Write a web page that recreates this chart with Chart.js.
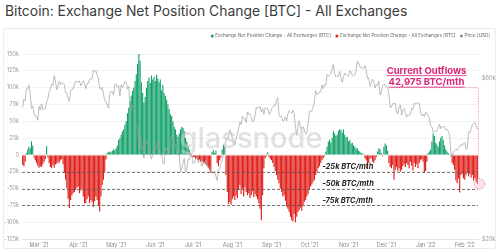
<!DOCTYPE html>
<html>
<head>
<meta charset="utf-8">
<script src="https://cdn.jsdelivr.net/npm/chart.js@4.4.1/dist/chart.umd.min.js"></script>
<style>
html, body { margin: 0; padding: 0; background: #fff; }
#wrap { position: relative; width: 499px; height: 251px; overflow: hidden; font-family: Inter, sans-serif; }
#title { position: absolute; left: 5px; top: 3px; font-size: 13.9px; color: #3b3b3b; white-space: nowrap; }
#panel { position: absolute; left: 3px; top: 28px; width: 491px; height: 219px; border: 1px solid #ececec; border-radius: 2px; }
canvas { position: absolute; left: 0; top: 0; }
</style>
</head>
<body>
<div id="wrap">
  <div id="title">Bitcoin: Exchange Net Position Change [BTC] - All Exchanges</div>
  <div id="panel"></div>
  <canvas id="chart" width="499" height="251"></canvas>
</div>
<script>
// net position change, thousands of BTC per 30 days (one value per day from 16 Feb 2021)
const netFeb21 = [-15,-17,-10,3,8,12,10,20,14,-4,-8,-12,-16];
const netMar21 = [-19,-17,-18,-14,-10,-6,13,-4,-12,-18,-20,-15,-19,-14,-13,-10,-12,-8,-6,-14,-27,-37,-50,-65,-79,-67,-60,-57,-55,-52,-49];
const netApr21 = [-47,-57,-53,-50,-62,-72,-72,-66,-62,-72,-67,-70,-77,-69,-62,-67,-75,-84,-62,-45,-37,-25,-7,3,4,5,4,6,8,7];
const netMay21 = [10,14,22,25,30,35,38,45,50,62,70,80,88,95,100,110,120,135,155,140,108,92,78,86,100,110,115,107,118,112,116];
const netJun21 = [110,119,114,108,112,96,104,92,88,82,75,68,60,58,50,42,38,30,27,32,38,42,40,35,25,20,14,8,3,-2];
const netJul21 = [-4,-3,-6,-5,-8,-7,-10,-9,-12,-11,-14,-16,-20,-22,-27,4,7,3,6,-12,-17,-8,-4,8,15,12,-30,-55,-73,-70,-74];
const netAug21 = [-66,-62,-67,-60,-64,-52,-45,-58,-50,-62,-48,-55,-60,-57,-64,-60,-54,-63,-58,-62,-66,-72,-80,-97,-60,-20,-5,-2,4,-3,-6];
const netSep21 = [-8,-12,-18,-24,-30,-37,-42,-50,-55,-62,-60,-68,-77,-80,-85,-92,-97,-99,-88,-100,-92,-85,-82,-78,-83,-75,-70,-67,-62,-58];
const netOct21 = [-52,-47,-44,-40,-37,-30,-25,-20,-17,-12,-8,-5,-2,5,12,20,22,18,25,35,32,28,30,36,38,37,33,38,30,26,27];
const netNov21 = [20,22,17,18,14,12,9,10,6,5,3,2,1,-5,-8,-20,-12,-6,-4,-10,-12,-8,-3,5,10,8,3,-2,12,17];
const netDec21 = [14,6,-12,-18,-20,-15,-37,-22,-18,-24,-20,-25,-22,-17,-14,-18,-12,-15,-20,-10,-16,-23,-12,-18,-14,-20,-12,-8,-6,-10,-27];
const netJan22 = [-24,-10,3,5,8,20,32,28,18,15,12,20,25,28,22,14,8,5,3,1,-2,-12,-15,-22,-38,-42,-35,-56,-30,-28,-35];
const netFeb22 = [-37,-30,-27,-32,-28,-34,-30,-38,-34,-40,-42.975];

// BTC price, thousands of USD
const priceFeb21 = [49.2,52.1,51.6,55.9,55.9,57.4,54.1,48.9,49.7,47.1,46.3,46.2,45.1];
const priceMar21 = [49.6,48.4,50.5,48.4,48.8,48.9,51.2,52.3,54.8,56.0,57.8,57.3,61.2,59.0,55.6,56.9,58.9,57.6,58.3,58.1,57.5,54.5,54.3,52.3,51.3,55.0,55.8,55.9,57.7,58.8,58.8];
const priceApr21 = [58.7,59.0,57.1,58.2,59.1,58.0,56.0,58.1,58.1,59.8,59.9,59.8,63.5,62.9,63.3,61.4,60.1,56.2,55.7,56.5,53.8,51.7,51.1,50.1,49.0,54.0,55.0,54.8,53.6,57.8];
const priceMay21 = [57.8,56.6,57.2,53.2,57.5,56.4,57.4,58.9,58.3,55.9,56.8,49.5,49.7,49.9,46.8,46.4,43.6,42.9,37.0,40.8,37.3,37.5,34.8,38.8,38.4,39.3,38.4,35.7,34.6,35.7,37.3];
const priceJun21 = [36.7,37.6,39.2,36.9,35.5,35.8,33.6,33.4,37.4,36.7,37.3,35.6,39.1,40.5,40.1,38.3,38.1,35.8,35.5,35.6,31.7,32.5,33.7,34.7,31.6,32.2,34.6,34.5,35.9,35.0];
const priceJul21 = [33.5,33.8,34.7,35.3,33.7,34.2,33.8,32.9,33.8,33.5,34.3,33.1,32.7,32.8,31.8,31.4,31.5,31.8,30.8,29.8,32.1,32.3,33.6,34.3,35.4,37.3,39.4,40.0,40.0,42.2,41.6];
const priceAug21 = [39.9,39.2,38.2,39.7,40.9,42.8,44.6,43.8,46.3,45.6,45.6,44.4,47.8,47.1,47.0,46.0,44.7,44.8,46.7,49.3,48.9,49.3,49.5,47.7,48.9,47.0,49.1,48.9,48.8,47.0,47.2];
const priceSep21 = [48.8,49.3,50.0,49.9,51.8,52.7,46.9,46.1,46.4,44.9,45.2,46.1,44.9,47.1,48.2,47.8,47.3,48.3,47.3,43.0,40.7,43.6,44.9,42.8,42.7,43.2,42.2,41.0,41.5,43.8];
const priceOct21 = [48.1,47.7,48.2,49.2,51.5,55.3,53.8,53.9,54.9,54.7,57.5,56.0,57.4,57.3,61.7,60.9,61.5,62.0,64.3,66.0,62.2,60.7,61.3,60.9,63.0,60.4,58.5,60.6,62.3,61.9,61.3];
const priceNov21 = [61.0,63.2,62.9,61.4,61.0,61.5,63.3,67.6,66.9,64.9,64.9,64.2,64.5,65.5,63.6,60.1,60.4,56.9,58.1,59.8,58.7,56.3,57.6,57.2,58.9,53.6,54.8,57.3,57.8,57.0];
const priceDec21 = [56.9,56.5,53.6,49.2,49.4,50.6,50.5,50.6,47.6,47.1,49.4,50.1,46.7,48.4,48.9,47.6,46.2,46.8,46.7,46.9,49.0,48.6,50.8,50.4,50.8,50.7,50.6,47.5,46.5,47.1,46.3];
const priceJan22 = [47.7,47.3,46.4,45.8,43.4,43.1,41.5,41.7,41.9,41.8,42.7,43.9,42.6,43.1,43.2,43.1,42.2,42.4,41.7,40.7,36.5,35.0,36.3,36.7,37.0,36.8,37.2,37.7,38.2,37.9,38.5];
const priceFeb22 = [38.7,36.9,37.3,41.6,41.4,42.4,43.8,44.1,44.4,43.6,42.4];

const monthLabels = ["Mar '21","Apr '21","May '21","Jun '21","Jul '21","Aug '21","Sep '21","Oct '21","Nov '21","Dec '21","Jan '22","Feb '22"];
const priceTicks = [20000, 60000];
const bandLevels = [-25000, -50000, -75000];
const bandLabels = ['-25k BTC/mth', '-50k BTC/mth', '-75k BTC/mth'];
const calloutLines = ['Current Outflows', '42,975 BTC/mth'];

const netChange = [].concat(netFeb21, netMar21, netApr21, netMay21, netJun21, netJul21,
  netAug21, netSep21, netOct21, netNov21, netDec21, netJan22, netFeb22);
const price = [].concat(priceFeb21, priceMar21, priceApr21, priceMay21, priceJun21, priceJul21,
  priceAug21, priceSep21, priceOct21, priceNov21, priceDec21, priceJan22, priceFeb22);

const start = Date.UTC(2021, 1, 16);
const dates = netChange.map((_, i) => new Date(start + i * 86400000));
const labels = dates.map(d => d.toISOString().slice(0, 10));
const monthStarts = [];
dates.forEach((d, i) => { if (d.getUTCDate() === 1) monthStarts.push(i); });

const GREEN = '#15a26a';
const RED = '#df1f1a';
const PINK = '#dc2478';
const FONT = 'Inter, sans-serif';

// legend, watermark and notes drawn straight on the canvas
const extras = {
  id: 'extras',
  afterDatasetsDraw(chart) {
    const { ctx, chartArea: a, scales } = chart;
    const x = scales.x, y = scales.y;
    ctx.save();

    // watermark
    ctx.font = '500 29px ' + FONT;
    ctx.fillStyle = 'rgba(205,205,205,0.6)';
    ctx.textAlign = 'center';
    ctx.textBaseline = 'alphabetic';
    ctx.fillText('glassnode', 251, 148);

    // dashed levels
    ctx.strokeStyle = '#555';
    ctx.lineWidth = 0.8;
    ctx.setLineDash([3, 2]);
    bandLevels.forEach(v => {
      const py = Math.round(y.getPixelForValue(v)) + 0.5;
      ctx.beginPath(); ctx.moveTo(a.left, py); ctx.lineTo(a.right, py); ctx.stroke();
    });
    ctx.setLineDash([]);
    ctx.font = 'italic bold 7.5px ' + FONT;
    ctx.fillStyle = '#222';
    ctx.textAlign = 'left';
    ctx.textBaseline = 'bottom';
    bandLevels.forEach((v, k) => {
      ctx.fillText(bandLabels[k], x.getPixelForValue(238) - 1, y.getPixelForValue(v) - 1);
    });

    // current outflows callout
    const last = netChange.length - 1;
    const bx0 = x.getPixelForValue(292), bx1 = x.getPixelForValue(last) + 1;
    const by0 = y.getPixelForValue(100000), cy = y.getPixelForValue(netChange[last] * 1000);
    ctx.strokeStyle = 'rgba(230,110,160,0.9)';
    ctx.lineWidth = 1;
    ctx.setLineDash([1, 1.5]);
    ctx.beginPath();
    ctx.moveTo(bx0, by0); ctx.lineTo(bx1, by0); ctx.lineTo(bx1, cy - 5);
    ctx.stroke();
    ctx.beginPath();
    ctx.arc(bx1 + 1, cy, 5.5, 0, Math.PI * 2);
    ctx.fillStyle = 'rgba(245,170,205,0.35)';
    ctx.fill();
    ctx.stroke();
    ctx.setLineDash([]);

    ctx.font = 'bold 9.5px ' + FONT;
    ctx.fillStyle = PINK;
    ctx.strokeStyle = PINK;
    ctx.textAlign = 'center';
    ctx.textBaseline = 'alphabetic';
    const cx = bx0 + 35;
    calloutLines.forEach((t, k) => {
      const base = by0 - 14 + k * 11.5;
      ctx.fillText(t, cx, base);
      const w = ctx.measureText(t).width;
      ctx.lineWidth = 0.8;
      ctx.beginPath(); ctx.moveTo(cx - w / 2, base + 2); ctx.lineTo(cx + w / 2, base + 2); ctx.stroke();
    });

    // legend
    const items = [
      { text: 'Exchange Net Position Change - All Exchanges [BTC]', color: GREEN },
      { text: 'Exchange Net Position Change - All Exchanges [BTC]', color: RED },
      { text: 'Price [USD]', color: '#8f8f8f' }
    ];
    ctx.font = '4.6px ' + FONT;
    ctx.textAlign = 'left';
    ctx.textBaseline = 'middle';
    let cur = 490;
    for (let k = items.length - 1; k >= 0; k--) {
      const w = ctx.measureText(items[k].text).width;
      const tx = cur - w;
      ctx.fillStyle = '#666';
      ctx.fillText(items[k].text, tx, 36);
      ctx.fillStyle = items[k].color;
      ctx.beginPath(); ctx.arc(tx - 3, 36, 1.5, 0, Math.PI * 2); ctx.fill();
      cur = tx - 9;
    }
    ctx.restore();
  }
};

window.chartInstance = new Chart(document.getElementById('chart').getContext('2d'), {
  type: 'bar',
  data: {
    labels: labels,
    datasets: [
      {
        label: 'Exchange Net Position Change - All Exchanges [BTC]',
        data: netChange.map(v => v > 0 ? v * 1000 : null),
        backgroundColor: GREEN,
        yAxisID: 'y',
        order: 2
      },
      {
        label: 'Exchange Net Position Change - All Exchanges [BTC]',
        data: netChange.map(v => v < 0 ? v * 1000 : null),
        backgroundColor: RED,
        yAxisID: 'y',
        order: 2
      },
      {
        type: 'line',
        label: 'Price [USD]',
        data: price.map(v => v * 1000),
        borderColor: '#a0a0a0',
        borderWidth: 0.7,
        pointRadius: 0,
        tension: 0,
        yAxisID: 'y1',
        order: 1
      }
    ]
  },
  options: {
    responsive: false,
    animation: false,
    devicePixelRatio: 1,
    layout: { padding: { top: 54, left: 0, right: 0, bottom: 0 } },
    datasets: { bar: { grouped: false, barPercentage: 0.9, categoryPercentage: 1 } },
    plugins: { legend: { display: false }, tooltip: { enabled: false } },
    scales: {
      x: {
        type: 'category',
        grid: { display: false, drawTicks: false },
        border: { color: '#e4e4e4' },
        afterBuildTicks: s => { s.ticks = s.ticks.filter(t => monthStarts.includes(t.value)); },
        afterFit: s => { s.height = 12; },
        ticks: {
          autoSkip: false, maxRotation: 0, padding: 3,
          color: '#8a8a8a', font: { size: 5.5, family: FONT },
          callback: v => monthLabels[monthStarts.indexOf(v)]
        }
      },
      y: {
        position: 'left',
        min: -125000, max: 150000,
        grid: { color: '#f1f1f1', drawTicks: false },
        border: { display: false },
        afterFit: s => { s.width = 22; },
        ticks: {
          stepSize: 25000, padding: 3,
          color: '#9a9a9a', font: { size: 5.5, family: FONT },
          callback: v => v === 0 ? '0' : (v / 1000) + 'k'
        }
      },
      y1: {
        type: 'logarithmic',
        position: 'right',
        min: 20000, max: 71000,
        grid: { display: false, drawTicks: false },
        border: { display: false },
        afterBuildTicks: s => { s.ticks = priceTicks.map(v => ({ value: v })); },
        afterFit: s => { s.width = 21; },
        ticks: {
          padding: 4,
          color: '#9a9a9a', font: { size: 5.5, family: FONT },
          callback: v => '$' + (v / 1000) + 'k'
        }
      }
    }
  },
  plugins: [extras]
});
</script>
</body>
</html>
